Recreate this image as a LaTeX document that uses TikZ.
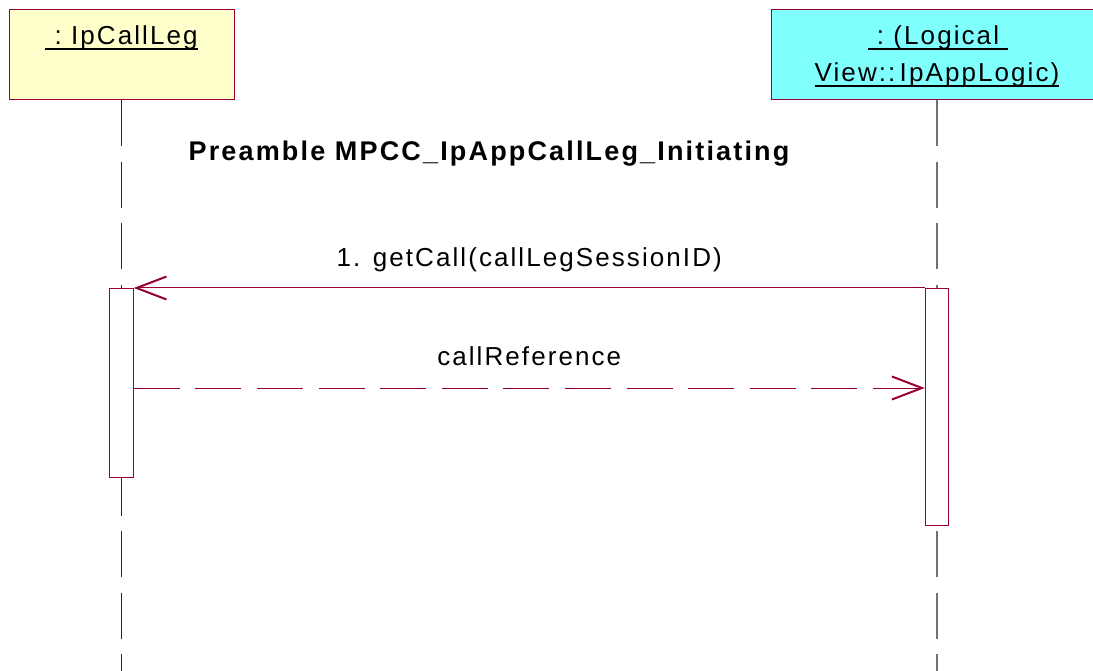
\documentclass[tikz,border=0pt]{standalone}
\usepackage{fontspec}
\setmainfont{Liberation Sans}[LetterSpace=8]
\usetikzlibrary{arrows.meta}

\definecolor{rosered}{RGB}{153,0,51}
\definecolor{objyellow}{RGB}{255,255,204}
\definecolor{objcyan}{RGB}{128,255,255}

% underlined object name, thick rule just under the baseline
\newcommand{\objname}[1]{\vtop{\hbox{\raisebox{0pt}[\height][0pt]{#1}}\kern3.5pt\hrule height 2pt}}

\tikzset{
  objbox/.style={draw=rosered, line width=1pt, anchor=north, inner sep=0pt},
  lifeline/.style={line width=1.3pt, dash pattern=on 46pt off 15.6pt},
  activation/.style={draw=rosered, fill=white, line width=1pt, anchor=north,
    inner sep=0pt, minimum width=23.5pt},
  msg/.style={rosered, line width=1pt,
    -{Straight Barb[length=30pt,width=23pt,line width=2pt]}},
  lbl/.style={font=\fontsize{26}{31}\selectfont, text=black, anchor=base, inner sep=0pt},
}

\begin{document}
\begin{tikzpicture}[x=1pt,y=-1pt]
    \useasboundingbox[fill=white] (0,0) rectangle (1093,671);

    % objects
    \node[objbox, fill=objyellow, minimum width=225pt, minimum height=90pt] (leg) at (121.5,9) {};
    \node[objbox, fill=objcyan, minimum width=332pt, minimum height=90pt] (logic) at (937,9) {};
    \node[lbl] (legname) at (121.5,45) {\objname{\ :\ IpCallLeg}};
    \node[lbl] (logicnameA) at (938,45) {\objname{\ :\ (Logical\ }};
    \node[lbl] (logicnameB) at (937,82) {\objname{View::\,IpAppLogic)}};

    % lifelines
    \coordinate (legend) at (121.5,671);
    \coordinate (logicend) at (937,671);
    \draw[lifeline, black!85] (leg.south) -- (legend);
    \draw[lifeline, black!55] (logic.south) -- (logicend);

    \node[lbl, font=\fontsize{27}{32}\selectfont\bfseries] (title) at (489,161)
        {Preamble MPCC\_IpAppCallLeg\_Initiating};

    % activations
    \node[activation, minimum height=189pt] (actL) at (121.5,288) {};
    \node[activation, minimum height=237pt] (actR) at (937,288) {};

    % messages
    \draw[msg] (actR.north west) -- (actL.north east)
        node[lbl, midway, yshift=21pt] (getcall) {1. getCall(callLegSessionID)};
    \draw[msg, dash pattern=on 46pt off 15.6pt] (actL.east |- 0,388) -- (actR.west |- 0,388)
        node[lbl, midway, yshift=23pt] (callref) {callReference};
\end{tikzpicture}
\end{document}
